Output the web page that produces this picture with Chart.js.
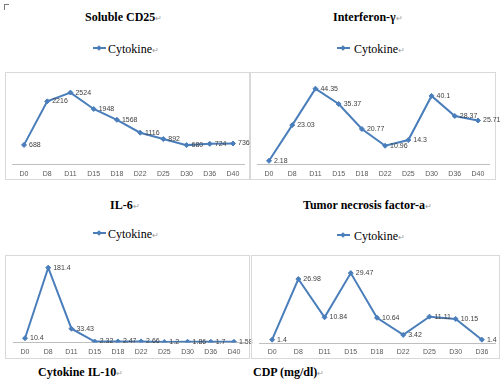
<!DOCTYPE html>
<html>
<head>
<meta charset="utf-8">
<script src="https://cdn.jsdelivr.net/npm/chart.js@4.4.0/dist/chart.umd.min.js"></script>
<style>
  body { margin: 0; width: 503px; height: 387px; background: #fff; position: relative; overflow: hidden; font-family: 'Liberation Serif', 'Times New Roman', serif; }
  .t { position: absolute; font-size: 12px; line-height: 14px; white-space: nowrap; color: #000; font-family: 'Liberation Serif', serif; }
  .b { font-weight: bold; }
  .ret { color: #9a9a9a; font-size: 8px; font-weight: normal; }
  .box { position: absolute; border: 1px solid #d9d9d9; box-sizing: border-box; }
  canvas { position: absolute; }
  .mk { position: absolute; width: 13px; height: 2px; background: #4a7ebb; }
  .mk::after { content: ''; position: absolute; left: 4px; top: -1.5px; width: 4px; height: 4px; background: #4a7ebb; transform: rotate(45deg); }
  .corner { position: absolute; left: 4px; top: 4px; width: 4px; height: 5px; border-left: 1px solid #777; border-top: 1px solid #777; }
</style>
</head>
<body>
<div class="corner"></div>

<div class="t b" style="left:85px; top:10px;">Soluble CD25<span class="ret">↵</span></div>
<div class="mk" style="left:93px; top:47px;"></div>
<div class="t" style="left:108px; top:42px;">Cytokine<span class="ret">↵</span></div>

<div class="t b" style="left:333px; top:10px;">Interferon-γ<span class="ret">↵</span></div>
<div class="mk" style="left:337px; top:47px;"></div>
<div class="t" style="left:354px; top:42px;">Cytokine<span class="ret">↵</span></div>

<div class="t b" style="left:110px; top:198px;">IL-6<span class="ret">↵</span></div>
<div class="mk" style="left:93px; top:232px;"></div>
<div class="t" style="left:108px; top:227px;">Cytokine<span class="ret">↵</span></div>

<div class="t b" style="left:303px; top:198px;">Tumor necrosis factor-a<span class="ret">↵</span></div>
<div class="mk" style="left:337px; top:234px;"></div>
<div class="t" style="left:354px; top:229px;">Cytokine<span class="ret">↵</span></div>

<div class="t b" style="left:38px; top:365px;">Cytokine IL-10<span class="ret">↵</span></div>
<div class="t b" style="left:253px; top:365px;">CDP (mg/dl)<span class="ret">↵</span></div>

<div class="box" style="left:5px; top:72px; width:245px; height:108px;"></div>
<canvas id="cd25" width="250" height="108" style="left:5px; top:72px;"></canvas>
<div class="box" style="left:250px; top:72px; width:246px; height:108px;"></div>
<canvas id="ifn" width="252" height="108" style="left:251px; top:72px;"></canvas>
<div class="box" style="left:5px; top:255px; width:245px; height:104px;"></div>
<canvas id="il6" width="250" height="104" style="left:5px; top:255px;"></canvas>
<div class="box" style="left:251px; top:255px; width:249px; height:104px;"></div>
<canvas id="tnf" width="251" height="104" style="left:252px; top:255px;"></canvas>

<script>
'use strict'
const days = ['D0', 'D8', 'D11', 'D15', 'D18', 'D22', 'D25', 'D30', 'D36', 'D40']
const tnfDays = ['D0', 'D8', 'D11', 'D15', 'D18', 'D22', 'D25', 'D30', 'D36']
const cd25 = [688, 2216, 2524, 1948, 1568, 1116, 892, 680, 724, 736]
const interferon = [2.18, 23.03, 44.35, 35.37, 20.77, 10.96, 14.3, 40.1, 28.37, 25.71]
const il6 = [10.4, 181.4, 33.43, 2.32, 2.47, 2.66, 1.2, 1.86, 1.7, 1.58]
const tnf = [1.4, 26.98, 10.84, 29.47, 10.64, 3.42, 11.11, 10.15, 1.4]

const blue = '#4a7ebb'

// numbers written right of each point
const pointLabels = {
  id: 'pointLabels',
  afterDatasetsDraw(chart) {
    const ctx = chart.ctx
    const values = chart.data.datasets[0].data
    const meta = chart.getDatasetMeta(0)
    ctx.save()
    ctx.font = '7px "Liberation Sans", Arial, sans-serif'
    ctx.fillStyle = '#404040'
    ctx.textBaseline = 'middle'
    meta.data.forEach((pt, i) => {
      ctx.fillText(String(values[i]), pt.x + 5, pt.y)
    })
    ctx.restore()
  },
}

function lineChart(id, labels, values, max, pad, axisH) {
  const ctx = document.getElementById(id).getContext('2d')
  return new Chart(ctx, {
    type: 'line',
    data: {
      labels: labels,
      datasets: [
        {
          data: values,
          borderColor: blue,
          backgroundColor: blue,
          borderWidth: 2,
          pointStyle: 'rectRot',
          pointRadius: 2.5,
          pointBorderWidth: 1,
          tension: 0,
        },
      ],
    },
    options: {
      responsive: false,
      animation: false,
      layout: { padding: pad },
      plugins: { legend: { display: false }, tooltip: { enabled: false } },
      scales: {
        x: {
          offset: true,
          grid: { display: false, drawTicks: false },
          border: { color: '#bfbfbf', width: 1 },
          ticks: {
            padding: 5,
            color: '#595959',
            font: { family: '"Liberation Sans", Arial, sans-serif', size: 7 },
            maxRotation: 0,
            autoSkip: false,
          },
          afterFit: (s) => { s.height = axisH },
        },
        y: { display: false, min: 0, max: max },
      },
    },
    plugins: [pointLabels],
  })
}

lineChart('cd25', days, cd25, 3000, { left: 7.4, right: 10.4, top: 7, bottom: 0 }, 15.5)
lineChart('ifn', days, interferon, 50, { left: 6.4, right: 13.4, top: 7, bottom: 0 }, 15.5)
lineChart('il6', days, il6, 200, { left: 8.4, right: 9.4, top: 1, bottom: 0 }, 16.5)
lineChart('tnf', tnfDays, tnf, 35, { left: 7, right: 8, top: 1, bottom: 0 }, 16)
</script>
</body>
</html>
